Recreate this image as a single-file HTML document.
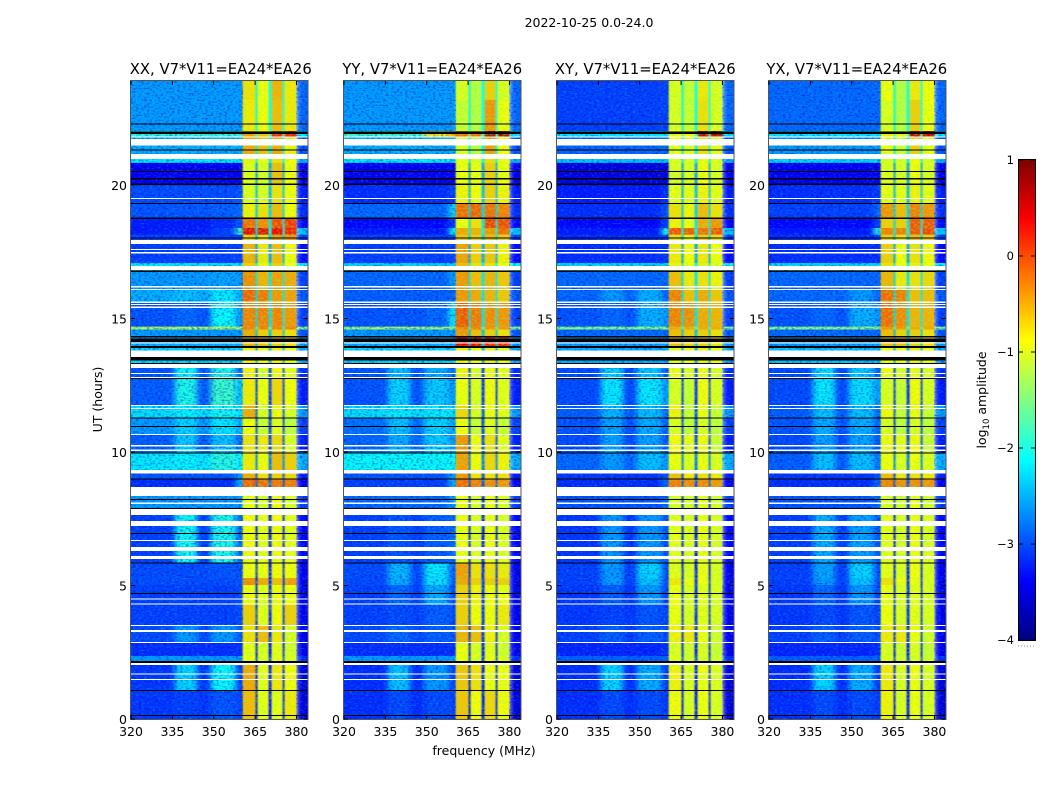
<!DOCTYPE html>
<html>
<head>
<meta charset="utf-8">
<title>2022-10-25 spectrograms</title>
<style>
html,body{margin:0;padding:0;background:#fff;width:1050px;height:800px;overflow:hidden}
svg{display:block}
text{font-family:"DejaVu Sans","Liberation Sans",sans-serif;fill:#000}
</style>
</head>
<body>
<svg id="fig" xmlns="http://www.w3.org/2000/svg" width="1050" height="800" viewBox="0 0 1050 800">
<defs>
<filter id="speckDark" x="0" y="0" width="100%" height="100%" color-interpolation-filters="sRGB">
<feTurbulence type="fractalNoise" baseFrequency="0.36 0.6" numOctaves="1" seed="3"/>
<feColorMatrix type="matrix" values="0 0 0 0 0  0 0 0 0 0  0 0 0 0 0.8  3.5 0 0 0 -1.6"/>
</filter>
<filter id="speckLight" x="0" y="0" width="100%" height="100%" color-interpolation-filters="sRGB">
<feTurbulence type="fractalNoise" baseFrequency="0.36 0.6" numOctaves="1" seed="11"/>
<feColorMatrix type="matrix" values="0 0 0 0 0  0 0 0 0 0.8  0 0 0 0 1  0 3.5 0 0 -1.8"/>
</filter>
<filter id="speckGreen" x="0" y="0" width="100%" height="100%" color-interpolation-filters="sRGB">
<feTurbulence type="fractalNoise" baseFrequency="0.36 0.5" numOctaves="1" seed="5"/>
<feColorMatrix type="matrix" values="0 0 0 0 0.45  0 0 0 0 1  0 0 0 0 0.3  3.5 0 0 0 -1.4"/>
</filter>
<filter id="softBackground" x="-10%" y="0" width="120%" height="100%" color-interpolation-filters="sRGB"><feGaussianBlur stdDeviation="3 0"/></filter>
<filter id="softBands" x="-10%" y="0" width="120%" height="100%" color-interpolation-filters="sRGB"><feGaussianBlur stdDeviation="0.7 0"/></filter>
</defs>
<text x="589" y="27" font-size="12.5" text-anchor="middle">2022-10-25 0.0-24.0</text>
<text x="484" y="755" font-size="12.5" text-anchor="middle">frequency (MHz)</text>
<text transform="translate(102,399.5) rotate(-90)" font-size="12.5" text-anchor="middle">UT (hours)</text>
<text transform="translate(986,400) rotate(-90)" font-size="12.5" text-anchor="middle">log<tspan font-size="8.5" dy="3">10</tspan><tspan dy="-3"> amplitude</tspan></text>
</svg>
<script>
// ---- axis tick data ----
const freqTicks = [320, 335, 350, 365, 380];
const hourTicks = [0, 5, 10, 15, 20];
const colorTicks = [1, 0, -1, -2, -3, -4];
const panelTitles = ["XX, V7*V11=EA24*EA26", "YY, V7*V11=EA24*EA26", "XY, V7*V11=EA24*EA26", "YX, V7*V11=EA24*EA26"];

// ---- frequency columns (MHz) ----
const freqEdges = [320, 336, 344, 349, 358, 360.5, 365.2, 365.9, 369.9, 371, 375, 375.7, 380, 384];

// ---- time rows: top edge of each row (hours) ----
const rowTops = [24, 23.29, 22.12, 21.91, 21.07, 20.92, 20.08, 19.40, 18.84, 18.47, 18.22, 17.87, 17.15, 16.85, 16.14, 15.70, 14.76, 14.65, 14.41, 14.03, 13.39, 12.80, 11.81, 11.34, 10.72, 10.03, 9.37, 9.02, 8.39, 7.67, 5.86, 5.30, 5.04, 4.30, 3.54, 2.89, 2.37, 2.11, 1.09];

// per-row log10 amplitude of the notch channels between bright bands, and of the band edge
const gapValues = [-2.1,-2.1,-1.8,-2.2,-2.2,-2.6,-2.5,-2.4,-2.3,-2.2,-2.4,-2.6,-2.2,-2.3,-2.3,-2.3,-1.8,-2.5,-2.5,-2.6,-3,-3.1,-2.9,-3,-3,-2.7,-3,-2.9,-3.1,-3.2,-3.2,-3.1,-3.1,-3.1,-3.1,-3.2,-3,-3.2,-3.2,-3.2];
const edgeValues = [-2.7,-2.7,-2.2,-2.8,-2.5,-3.3,-3.1,-3,-3.2,-2.4,-2.9,-3.2,-2.1,-2.9,-2.8,-2.9,-1.5,-2.8,-2.6,-2.5,-3,-3.1,-2.6,-2.9,-3.1,-2.5,-3.1,-3.3,-2.9,-3.2,-3.3,-3.3,-3.3,-3.3,-3.3,-3.3,-3,-3.4,-3.4,-3.4];

// per-row values: [background, bump1, bump2, shoulder, band1, band2, band3, band4]
const valuesXX = [
[-2.6,-2.6,-2.6,-2.6,-0.7,-0.9,-0.45,-0.75],[-2.6,-2.6,-2.6,-2.6,-0.75,-0.85,-0.5,-0.75],[-1.9,-1.9,-1.9,-1.9,-0.3,-0.5,0.3,0.3],[-2.5,-2.5,-2.5,-2.5,-0.4,-0.5,-0.4,-0.8],[-2.2,-2.2,-2.2,-2.2,-0.8,-0.9,-0.7,-0.85],[-3.3,-3.3,-3.3,-3.3,-1,-1,-0.5,-0.85],[-2.85,-2.85,-2.85,-2.8,-1,-1,-0.7,-0.85],[-2.8,-2.8,-2.75,-2.7,-0.8,-0.7,-0.5,-0.85],[-3.1,-3.1,-3,-2.8,-0.1,-0.25,0.05,0.15],[-3.1,-3.1,-2.9,-1.9,0.45,0.45,0.4,0.25],[-2.9,-2.9,-2.9,-2.9,-0.6,-0.7,-0.3,-0.3],[-2.9,-2.9,-2.9,-2.9,-0.45,-0.75,-0.5,-0.85],[-2.2,-2.2,-2.2,-2.2,-0.6,-0.8,-0.6,-0.9],[-2.6,-2.6,-2.55,-2.6,-0.25,-0.45,-0.35,-0.4],[-2.5,-2.4,-2.2,-2.5,-0.05,-0.15,-0.3,-0.35],[-2.8,-2.7,-2.1,-2.6,-0.2,-0.2,-0.2,-0.3],[-1.3,-1.3,-1.3,-1.3,-0.2,-0.2,-0.2,-0.2],[-2.6,-2.6,-2.6,-2.6,-0.4,-0.6,-0.6,-0.7],[-2.5,-2.5,-2.5,-2.5,-0.4,-0.5,-0.6,-0.7],[-2.3,-2.3,-2.3,-2.3,-0.8,-0.9,-0.8,-0.9],[-2.8,-2.1,-2,-2.7,-0.8,-1,-0.85,-0.95],[-2.75,-2,-1.85,-2.4,-0.75,-0.9,-0.65,-0.85],[-2.25,-2.15,-2.05,-2.2,-0.4,-1,-0.85,-1],[-2.6,-2.3,-2.2,-2.5,-0.85,-1.1,-0.95,-1.15],[-2.75,-2.35,-2.4,-2.7,-0.7,-0.75,-0.65,-1],[-2.2,-2.15,-1.95,-2.1,-0.75,-0.85,-0.5,-0.6],[-2.8,-2.8,-2.8,-2.6,-0.4,-0.7,-0.6,-0.65],[-3,-3,-3,-2.5,-0.05,-0.1,-0.15,-0.15],[-2.6,-2.6,-2.6,-2.6,-0.9,-1,-0.85,-1],[-2.9,-2.05,-2,-2.7,-0.85,-0.95,-0.85,-0.95],[-2.85,-2.85,-2.8,-2.85,-0.9,-0.9,-0.85,-0.85],[-2.85,-2.85,-2.85,-2.8,-0.25,-0.4,-0.5,-0.35],[-2.9,-2.9,-2.9,-2.85,-0.85,-0.95,-0.85,-0.9],[-2.9,-2.9,-2.9,-2.85,-0.6,-0.95,-0.85,-0.6],[-2.85,-2.6,-2.6,-2.8,-0.7,-0.5,-0.75,-1],[-3,-3,-3,-3,-0.95,-1,-0.95,-1.05],[-2.6,-2.6,-2.6,-2.6,-0.9,-1,-0.9,-1],[-2.95,-2.3,-2.1,-2.9,-0.4,-0.95,-0.75,-0.85],[-2.95,-2.9,-2.8,-2.9,-0.5,-0.95,-0.95,-0.75]];
const valuesYY = [
[-2.6,-2.6,-2.6,-2.6,-1,-1.2,-0.6,-1],[-2.6,-2.6,-2.6,-2.6,-1.1,-1.2,-0.3,-0.9],[-1.8,-1.8,-0.8,-0.5,-0.1,-0.1,0.8,0.8],[-2.5,-2.5,-2.5,-2.5,-1,-1.2,-0.35,-0.9],[-2.2,-2.2,-2.2,-2.2,-0.9,-1,-0.7,-0.9],[-3.3,-3.3,-3.3,-3.3,-0.9,-0.9,-0.6,-0.9],[-3,-3,-3,-2.9,-0.8,-0.85,-0.6,-0.8],[-2.7,-2.7,-2.7,-2.3,-0.1,-0.05,-0.1,-0.2],[-3.2,-3.2,-3.2,-2.9,-0.9,-0.7,0.1,0.05],[-3.1,-3.1,-3.1,-2.2,-0.4,-0.45,-0.3,-0.1],[-2.9,-2.9,-2.9,-2.8,-0.55,-0.6,-0.5,-0.6],[-2.9,-2.9,-2.9,-2.9,-0.35,-0.6,-0.55,-0.8],[-2.3,-2.3,-2.3,-2.3,-0.5,-0.7,-0.7,-0.9],[-2.7,-2.7,-2.7,-2.6,-0.3,-0.5,-0.45,-0.55],[-2.75,-2.75,-2.75,-2.7,-0.3,-0.4,-0.45,-0.55],[-2.8,-2.8,-2.7,-2.2,0,-0.15,-0.25,-0.3],[-1.4,-1.4,-1.4,-1.4,-0.2,-0.2,-0.3,-0.3],[-2.6,-2.6,-2.6,-2.6,-0.3,-0.5,-0.6,-0.7],[-2.5,-2.5,-2.5,-2.5,0.5,0.4,0.3,0.3],[-2.3,-2.3,-2.3,-2.3,-0.8,-0.9,-0.8,-0.9],[-2.8,-2.4,-2.5,-2.7,-0.8,-1,-0.85,-0.95],[-2.8,-2.3,-2.35,-2.6,-0.9,-1,-0.85,-0.95],[-2.25,-2.2,-2.2,-2.2,-0.65,-1,-0.9,-0.95],[-2.65,-2.4,-2.3,-2.55,-0.85,-1.1,-0.95,-1.1],[-2.7,-2.5,-2.35,-2.6,-0.3,-0.9,-0.7,-0.95],[-2.1,-2.1,-2.1,-2.1,-0.35,-0.85,-0.65,-0.8],[-2.8,-2.8,-2.8,-2.6,-0.3,-0.7,-0.7,-0.7],[-2.9,-2.9,-2.9,-2.5,-0.1,-0.2,-0.25,-0.3],[-2.7,-2.7,-2.7,-2.6,-0.9,-1,-0.9,-1],[-2.9,-2.8,-2.75,-2.7,-0.9,-1,-0.9,-1],[-2.85,-2.45,-2.2,-2.75,-0.35,-0.7,-0.7,-0.75],[-2.85,-2.5,-2.25,-2.75,-0.4,-0.6,-0.6,-0.6],[-2.9,-2.7,-2.5,-2.85,-0.6,-0.8,-0.85,-0.9],[-2.9,-2.85,-2.75,-2.85,-0.6,-0.85,-0.85,-0.75],[-2.85,-2.7,-2.75,-2.8,-0.45,-0.5,-0.8,-1],[-3,-3,-3,-3,-0.9,-1,-0.95,-1.05],[-2.6,-2.6,-2.6,-2.6,-0.9,-1,-0.9,-1],[-3,-2.4,-2.6,-2.9,-0.55,-0.7,-0.9,-0.9],[-3,-2.85,-2.85,-2.9,-0.55,-0.85,-0.65,-0.85]];
const valuesXY = [
[-2.9,-2.9,-2.9,-2.9,-1,-1.1,-0.75,-1],[-2.9,-2.9,-2.9,-2.9,-1,-1.1,-0.7,-1],[-2.2,-2.2,-2.2,-2.2,-0.8,-0.8,0.7,0.7],[-2.7,-2.7,-2.7,-2.7,-0.95,-1,-0.7,-0.95],[-2.4,-2.4,-2.4,-2.4,-1,-1,-0.85,-1],[-3.4,-3.4,-3.4,-3.4,-1,-1,-0.85,-1],[-3.1,-3.1,-3.1,-3,-0.95,-0.95,-0.8,-0.95],[-3,-3,-3,-2.8,-0.7,-0.8,-0.5,-0.7],[-3.2,-3.2,-3.2,-2.9,-0.8,-0.9,-0.4,-0.3],[-3.1,-3.1,-3.1,-2,0,0,-0.1,0],[-3,-3,-3,-2.9,-0.7,-0.8,-0.6,-0.7],[-3,-3,-3,-3,-0.75,-0.85,-0.75,-0.9],[-2.3,-2.3,-2.3,-2.3,-0.8,-0.9,-0.8,-0.95],[-2.7,-2.7,-2.7,-2.7,-0.5,-0.75,-0.7,-0.8],[-2.7,-2.6,-2.5,-2.7,-0.2,-0.5,-0.4,-0.55],[-2.8,-2.7,-2.5,-2.6,-0.2,-0.25,-0.4,-0.45],[-1.5,-1.5,-1.5,-1.5,-0.4,-0.4,-0.4,-0.4],[-2.7,-2.7,-2.7,-2.7,-0.5,-0.6,-0.6,-0.7],[-2.6,-2.6,-2.6,-2.6,-0.5,-0.6,-0.6,-0.7],[-2.5,-2.5,-2.5,-2.5,-0.9,-0.9,-0.8,-0.9],[-2.85,-2.3,-2.35,-2.75,-0.9,-1,-0.9,-1],[-2.85,-2.2,-2.2,-2.6,-1,-1.1,-0.85,-1],[-2.75,-2.45,-2.4,-2.7,-0.8,-1.1,-0.9,-1.1],[-2.8,-2.55,-2.5,-2.75,-1,-1.15,-1,-1.15],[-2.85,-2.55,-2.55,-2.8,-0.85,-0.95,-0.85,-1.1],[-2.7,-2.6,-2.4,-2.6,-0.9,-1,-0.9,-1],[-2.95,-2.95,-2.95,-2.8,-0.5,-0.75,-0.7,-0.75],[-3,-3,-3,-2.7,-0.2,-0.25,-0.25,-0.3],[-2.8,-2.8,-2.8,-2.7,-1,-1.05,-0.95,-1.05],[-2.95,-2.6,-2.6,-2.8,-0.95,-1,-0.9,-1],[-2.9,-2.6,-2.3,-2.85,-0.95,-1,-0.9,-1],[-2.9,-2.6,-2.4,-2.85,-0.75,-0.9,-0.9,-1],[-2.95,-2.75,-2.6,-2.9,-0.9,-1,-0.95,-1],[-2.95,-2.9,-2.8,-2.9,-0.9,-1,-0.95,-1],[-2.9,-2.75,-2.75,-2.85,-0.8,-0.75,-0.9,-1.05],[-3.05,-3.05,-3.05,-3,-1,-1.05,-1,-1.1],[-2.75,-2.75,-2.75,-2.75,-0.95,-1.05,-1,-1.05],[-3,-2.3,-2.5,-2.95,-0.8,-1,-0.9,-1],[-3,-2.85,-2.85,-2.95,-0.85,-1,-0.9,-1]];
const valuesYX = [
[-2.7,-2.7,-2.7,-2.7,-0.9,-1.2,-0.75,-0.85],[-2.7,-2.7,-2.7,-2.7,-1,-1.2,-0.6,-0.9],[-2.2,-2.2,-2.2,-2.2,-0.8,-0.8,0.6,0.6],[-2.6,-2.6,-2.6,-2.6,-0.9,-1.1,-0.6,-0.9],[-2.3,-2.3,-2.3,-2.3,-1,-1,-0.85,-1],[-3.3,-3.3,-3.3,-3.3,-1,-1,-0.85,-1],[-3,-3,-3,-2.95,-0.95,-0.95,-0.8,-0.95],[-2.9,-2.9,-2.9,-2.7,-0.3,-0.5,-0.2,-0.3],[-3.2,-3.2,-3.2,-2.9,-0.6,-0.6,0,0],[-3.1,-3.1,-3.1,-2,-0.2,-0.2,0,0.1],[-3,-3,-3,-2.9,-0.6,-0.7,-0.5,-0.6],[-3,-3,-3,-3,-0.6,-0.85,-0.7,-0.85],[-2.3,-2.3,-2.3,-2.3,-0.7,-0.9,-0.8,-0.9],[-2.7,-2.7,-2.7,-2.7,-0.45,-0.75,-0.7,-0.65],[-2.7,-2.7,-2.6,-2.7,-0.1,-0.2,-0.5,-0.5],[-2.8,-2.7,-2.5,-2.6,-0.1,-0.25,-0.45,-0.45],[-1.5,-1.5,-1.5,-1.5,-0.3,-0.3,-0.4,-0.4],[-2.7,-2.7,-2.7,-2.7,-0.5,-0.6,-0.6,-0.7],[-2.6,-2.6,-2.6,-2.6,-0.5,-0.5,-0.6,-0.7],[-2.4,-2.4,-2.4,-2.4,-0.9,-0.9,-0.8,-0.9],[-2.85,-2.25,-2.35,-2.75,-0.9,-1,-0.9,-1],[-2.85,-2.2,-2.25,-2.6,-1,-1.1,-0.85,-1],[-2.75,-2.4,-2.4,-2.7,-0.85,-1.1,-0.9,-1.1],[-2.8,-2.5,-2.5,-2.75,-1,-1.15,-1,-1.15],[-2.85,-2.55,-2.55,-2.8,-0.85,-0.95,-0.85,-1.1],[-2.75,-2.4,-2.4,-2.65,-0.9,-1,-0.9,-1],[-2.95,-2.95,-2.95,-2.8,-0.5,-0.75,-0.7,-0.75],[-3,-3,-3,-2.7,-0.2,-0.25,-0.25,-0.3],[-2.8,-2.8,-2.8,-2.7,-1,-1.05,-0.95,-1.05],[-2.9,-2.5,-2.55,-2.8,-0.95,-1,-0.9,-1],[-2.9,-2.55,-2.3,-2.85,-0.95,-1,-0.9,-1],[-2.9,-2.6,-2.4,-2.85,-0.7,-0.9,-0.9,-1],[-2.95,-2.7,-2.6,-2.9,-0.9,-1,-0.95,-1],[-2.95,-2.85,-2.8,-2.9,-0.9,-1,-0.95,-1],[-2.9,-2.75,-2.75,-2.85,-0.75,-0.75,-0.9,-1.05],[-3.05,-3.05,-3.05,-3,-1,-1.05,-1,-1.1],[-2.75,-2.75,-2.75,-2.75,-0.95,-1.05,-1,-1.05],[-3,-2.3,-2.5,-2.95,-0.75,-1,-0.9,-1],[-3,-2.85,-2.85,-2.95,-0.8,-1,-0.9,-1]];
const panelValues = [valuesXX, valuesYY, valuesXY, valuesYX];

// ---- flagged (no data) intervals in hours ----
const whiteBands = [[21.91,21.87],[21.82,21.58],[21.26,21.07],[19.60,19.56],[18.01,17.87],[17.68,17.64],[17.56,17.52],[17.04,16.89],[16.29,16.24],[16.17,16.14],[15.70,15.65],[15.61,15.58],[15.51,15.47],[14.16,14.12],[13.86,13.61],[13.36,13.21],[13.01,12.97],[12.87,12.83],[11.81,11.78],[11.70,11.66],[10.72,10.68],[10.30,10.26],[10.13,10.09],[9.37,9.24],[8.73,8.39],[8.15,8.09],[7.91,7.67],[7.44,7.26],[6.73,6.70],[6.47,6.32],[6.14,6.01],[4.54,4.50],[4.34,4.30],[3.54,3.50],[3.35,3.28],[2.89,2.85],[2.10,2.04],[1.72,1.68],[1.50,1.47]];
const blackBands = [[22.41,22.39],[22.10,22.01],[21.43,21.38],[20.62,20.59],[20.35,20.30],[20.14,20.08],[19.42,19.40],[18.86,18.81],[18.11,18.09],[16.87,16.82],[14.41,14.36],[14.31,14.18],[14.03,13.95],[13.61,13.48],[13.39,13.37],[12.83,12.80],[11.34,11.32],[11.02,11.00],[10.03,10.01],[9.04,9.02],[8.27,8.24],[7.94,7.91],[6.99,6.97],[5.88,5.86],[4.74,4.72],[2.18,2.11],[1.09,1.07],[0.15,0.13]];

// ---- axis functions ----
const panelLefts = [131, 344, 557, 769];
const panelWidth = 176.5;
const plotTop = 81, plotBottom = 719;
const xScale = (left, f) => left + (f - 320) / 64 * panelWidth;
const yScale = h => plotBottom - h / 24 * (plotBottom - plotTop);
const hourTickY = h => plotBottom - h * 26.7;
const cbTop = 160, cbBottom = 640, cbLeft = 1019, cbRight = 1035;
const cbScale = v => cbBottom - (v + 4) / 5 * (cbBottom - cbTop);

function jet(v) {
  const t = Math.max(0, Math.min(1, (v + 4) / 5));
  const ch = (c) => Math.round(255 * Math.max(0, Math.min(1, 1.5 - Math.abs(4 * t - c))));
  return 'rgb(' + ch(3) + ',' + ch(2) + ',' + ch(1) + ')';
}
// darker noise-floor rows read as more saturated blue
const floorShade = v => v < -2.6 ? v - 0.15 : v;

const svg = document.getElementById('fig');
const NS = 'http://www.w3.org/2000/svg';
function mk(tag, parent, attrs) {
  const el = document.createElementNS(NS, tag);
  for (const k in attrs) el.setAttribute(k, attrs[k]);
  parent.appendChild(el);
  return el;
}
function columnValue(row, gap, edge, c) {
  return [row[0], row[1], row[0], row[2], row[3], row[4], gap, row[5], gap, row[6], gap, row[7], edge][c];
}
const bandColumns = [5, 6, 7, 8, 9, 10, 11];

panelLefts.forEach((left, p) => {
  const g = mk('g', svg, {});
  
  

  const clip = mk('clipPath', g, {id: 'clip' + p});
  mk('rect', clip, {x: left, y: plotTop, width: panelWidth, height: plotBottom - plotTop});

  const clipped = mk('g', g, {'clip-path': 'url(#clip' + p + ')'});
  const bgGroup = mk('g', clipped, {filter: 'url(#softBackground)'});
  
  
  const bandGroup = mk('g', clipped, {filter: 'url(#softBands)'});
  
  

  const vals = panelValues[p];
  rowTops.forEach((top, r) => {
    const bottom = r + 1 < rowTops.length ? rowTops[r + 1] : 0;
    for (let c = 0; c < freqEdges.length - 1; c++) {
      const isBand = bandColumns.indexOf(c) >= 0;
      const v = columnValue(vals[r], gapValues[r], edgeValues[r], c);
      let x0 = xScale(left, freqEdges[c]), x1 = xScale(left, freqEdges[c + 1]);
      if (c === 0) x0 -= 16;
      if (c === 4) x1 += 24;
      if (c === 12) x1 += 16;
      const cell = mk('rect', isBand ? bandGroup : bgGroup, {x: x0, y: yScale(top), width: x1 - x0, height: yScale(bottom) - yScale(top) + 0.3, fill: jet(isBand && c % 2 === 1 ? v : floorShade(v))});
      
      
    }
  });

  // speckle texture over the noisy background channels and the bright bands
  const speckWidth = xScale(left, 360.5) - left;
  [[left, speckWidth], [xScale(left, 380), xScale(left, 384) - xScale(left, 380)]].forEach(span => {
    const dark = mk('rect', g, {x: span[0], y: plotTop, width: span[1], height: plotBottom - plotTop, filter: 'url(#speckDark)', opacity: 0.45});
    
    
    const light = mk('rect', g, {x: span[0], y: plotTop, width: span[1], height: plotBottom - plotTop, filter: 'url(#speckLight)', opacity: 0.35});
    
    
  });
  const bandX = xScale(left, 360.5);
  const bandSpeck = mk('rect', g, {x: bandX, y: plotTop, width: xScale(left, 380) - bandX, height: plotBottom - plotTop, filter: 'url(#speckGreen)', opacity: 0.4});
  
  

  const maskGroup = mk('g', g, {'shape-rendering': 'crispEdges'});
  whiteBands.forEach(b => {
    const m = mk('rect', maskGroup, {x: left, y: yScale(b[0]), width: panelWidth, height: Math.max(1, yScale(b[1]) - yScale(b[0])), fill: '#fff'});
    
    
  });
  blackBands.forEach(b => {
    const m = mk('rect', maskGroup, {x: left, y: yScale(b[0]), width: panelWidth, height: Math.max(1, yScale(b[1]) - yScale(b[0])), fill: '#000'});
    
    
  });

  const frame = mk('rect', g, {x: left - 0.5, y: plotTop - 0.5, width: panelWidth + 1, height: plotBottom - plotTop + 1, fill: 'none', stroke: '#555', 'stroke-width': 1});
  
  

  const title = mk('text', g, {x: left + panelWidth / 2 + [1.5, 0, 0, -0.5][p], y: 74, 'font-size': 14.8, 'text-anchor': 'middle'});
  title.textContent = panelTitles[p];
  
  

  freqTicks.forEach(f => {
    const x = xScale(left, f);
    const tb = mk('line', g, {x1: x, x2: x, y1: plotBottom, y2: plotBottom - 4, stroke: '#000'});
    
    
    const tt = mk('line', g, {x1: x, x2: x, y1: plotTop, y2: plotTop + 4, stroke: '#000'});
    
    
    const lb = mk('text', g, {x: x, y: 736, 'font-size': 12.5, 'text-anchor': 'middle'});
    lb.textContent = f;
    
    
  });
  hourTicks.forEach(h => {
    const y = hourTickY(h);
    const tl = mk('line', g, {x1: left, x2: left + 4, y1: y, y2: y, stroke: '#000'});
    
    
    const tr = mk('line', g, {x1: left + panelWidth, x2: left + panelWidth - 4, y1: y, y2: y, stroke: '#000'});
    
    
    const lb = mk('text', g, {x: left - 4, y: y + 5, 'font-size': 12.5, 'text-anchor': 'end'});
    lb.textContent = h;
    
    
  });
});

// ---- colorbar ----
const cb = mk('g', svg, {});


const cbCells = mk('g', cb, {'shape-rendering': 'crispEdges'});
for (let i = 0; i < 160; i++) {
  const v0 = -4 + i * 5 / 160, v1 = -4 + (i + 1) * 5 / 160;
  const s = mk('rect', cbCells, {x: cbLeft, y: cbScale(v1), width: cbRight - cbLeft, height: cbScale(v0) - cbScale(v1) + 0.5, fill: jet((v0 + v1) / 2)});
  
  
}
const cbFrame = mk('rect', cb, {x: cbLeft - 0.5, y: cbTop - 0.5, width: cbRight - cbLeft + 1, height: cbBottom - cbTop + 1, fill: 'none', stroke: '#000'});


colorTicks.forEach(v => {
  const y = cbScale(v);
  const t1 = mk('line', cb, {x1: cbLeft, x2: cbLeft + 4, y1: y, y2: y, stroke: '#000'});
  
  
  const t2 = mk('line', cb, {x1: cbRight, x2: cbRight - 4, y1: y, y2: y, stroke: '#000'});
  
  
  const lb = mk('text', cb, {x: cbLeft - 5, y: y + 4, 'font-size': 11.5, 'text-anchor': 'end'});
  lb.textContent = String(v).replace('-', '\u2212');
  
  
});
const cbDots = mk('line', cb, {x1: cbLeft - 1, x2: cbRight, y1: 646, y2: 646, stroke: '#888', 'stroke-width': 1, 'stroke-dasharray': '1 2'});


</script>
</body>
</html>
